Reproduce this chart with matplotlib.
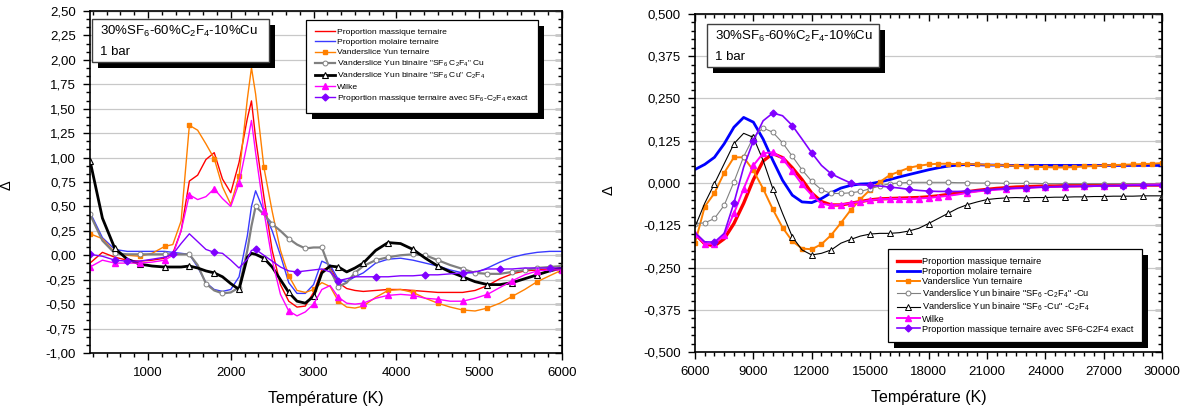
import numpy as np
import matplotlib
matplotlib.use("Agg")
import matplotlib.pyplot as plt
import matplotlib.patheffects as pe
from matplotlib.patches import Rectangle
from matplotlib.ticker import MultipleLocator, AutoMinorLocator, FuncFormatter

plt.rcParams['font.family'] = ['Liberation Sans', 'DejaVu Sans']
plt.rcParams['mathtext.default'] = 'regular'

# ---- left panel : 300 - 6000 K (finer sampling around the peaks) ----
T_lo = [300, 450, 600, 750, 900, 1050, 1200,
        1300, 1400, 1500, 1600, 1700, 1800, 1900, 2000, 2100, 2200,
        2250,
        2300, 2400, 2500, 2600, 2700, 2800, 2900, 3000, 3100, 3200, 3300, 3400, 3500, 3600,
        3750, 3900, 4050, 4200, 4350, 4500, 4650, 4800, 4950, 5100, 5250, 5400, 5550, 5700,
        5850, 6000]

red_lo = [-0.08, 0.03, -0.02, -0.05, -0.06, -0.05, -0.03,
          0.02, 0.25, 0.76, 0.82, 0.98, 1.05, 0.78, 0.64, 0.95, 1.40,
          1.58,
          1.20, 0.60, 0.05, -0.30, -0.47, -0.53, -0.52, -0.38, -0.15, -0.12, -0.28, -0.34,
          -0.36, -0.37,
          -0.36, -0.35, -0.35, -0.36, -0.37, -0.38, -0.38, -0.38, -0.36, -0.31, -0.24, -0.19,
          -0.16, -0.15, -0.14, -0.13]
blue_lo = [0.44, 0.18, 0.06, 0.04, 0.04, 0.04, 0.04,
           0.03, 0.02, 0.01, -0.12, -0.28, -0.35, -0.37, -0.35, -0.22, 0.20,
           0.50,
           0.66, 0.45, 0.25, 0.00, -0.28, -0.39, -0.39, -0.30, -0.06, -0.10, -0.25, -0.27,
           -0.22, -0.18,
           -0.08, -0.04, -0.03, -0.05, -0.08, -0.11, -0.15, -0.18, -0.18, -0.13, -0.07, -0.02,
           0.01, 0.03, 0.04, 0.04]
orange_lo = [0.22, 0.17, 0.03, 0.00, -0.01, 0.02, 0.09,
             0.11, 0.35, 1.33, 1.28, 1.14, 0.99, 0.70, 0.52, 0.81, 1.60,
             1.92,
             1.65, 0.90, 0.45, 0.05, -0.21, -0.36, -0.38, -0.35, -0.28, -0.32, -0.47, -0.53,
             -0.54, -0.52,
             -0.43, -0.36, -0.35, -0.38, -0.44, -0.49, -0.53, -0.56, -0.57, -0.54, -0.49, -0.42,
             -0.35, -0.27, -0.21, -0.15]
gray_lo = [0.42, 0.15, 0.02, 0.01, 0.01, 0.01, 0.01,
           0.01, 0.01, 0.01, -0.10, -0.29, -0.36, -0.39, -0.38, -0.33, 0.05,
           0.30,
           0.50, 0.42, 0.32, 0.25, 0.17, 0.11, 0.07, 0.08, 0.08, -0.15, -0.32, -0.28,
           -0.18, -0.11,
           -0.05, -0.02, 0.00, 0.01, 0.00, -0.05, -0.10, -0.14, -0.18, -0.19, -0.19, -0.17,
           -0.15, -0.13, -0.12, -0.11]
black_lo = [0.97, 0.38, 0.07, -0.04, -0.09, -0.11, -0.12,
            -0.12, -0.12, -0.11, -0.13, -0.16, -0.18, -0.22, -0.29, -0.35, -0.02,
            0.02,
            0.01, -0.03, -0.12, -0.25, -0.38, -0.47, -0.49, -0.42, -0.18, -0.11, -0.12, -0.17,
            -0.13, -0.08,
            0.05, 0.13, 0.12, 0.06, -0.03, -0.11, -0.17, -0.22, -0.27, -0.30, -0.30, -0.28,
            -0.24, -0.20, -0.16, -0.13]
magenta_lo = [-0.12, -0.05, -0.08, -0.08, -0.08, -0.07, -0.05,
              0.00, 0.25, 0.62, 0.57, 0.60, 0.68, 0.58, 0.50, 0.74, 1.15,
              1.38,
              1.05, 0.45, -0.05, -0.40, -0.57, -0.62, -0.58, -0.50, -0.35, -0.31, -0.43, -0.49,
              -0.50, -0.49,
              -0.44, -0.41, -0.40, -0.41, -0.44, -0.45, -0.47, -0.47, -0.44, -0.40, -0.33,
              -0.26, -0.20, -0.16, -0.15, -0.15]
purple_lo = [0.01, -0.01, -0.05, -0.06, -0.06, -0.04, -0.02,
             0.01, 0.12, 0.22, 0.14, 0.06, 0.03, 0.02, -0.05, -0.13, -0.04,
             0.05,
             0.06, 0.00, -0.06, -0.12, -0.16, -0.17, -0.16, -0.15, -0.14, -0.17, -0.26, -0.24,
             -0.22, -0.22,
             -0.22, -0.22, -0.21, -0.21, -0.20, -0.20, -0.19, -0.18, -0.17, -0.14, -0.14, -0.14,
             -0.13, -0.13, -0.13, -0.13]

# temperatures carrying a symbol
marks_300 = list(range(300, 6001, 300))
gray_lo_marks = [300, 600, 900, 1200, 1500, 1700, 1900, 2100, 2300, 2500, 2700, 2900, 3100,
                 3300, 3500, 3750, 3900, 4200, 4350, 4500, 4800, 4950, 5100, 5400, 5550, 5700,
                 5850, 6000]
purple_lo_marks = [300, 600, 750, 1300, 1800, 2300, 2800, 3300, 3750, 4350, 4800, 5250, 5850]

# ---- right panel : 6000 - 30000 K, one value every 500 K ----
T_hi = np.arange(6000, 30001, 500)

red_hi = [-0.150, -0.180, -0.186, -0.165, -0.120, -0.060, 0.010, 0.065, 0.087, 0.075,
          0.045, 0.010, -0.030, -0.055, -0.065, -0.065, -0.060, -0.055, -0.050, -0.047,
          -0.046, -0.045, -0.044, -0.043, -0.041, -0.038, -0.034, -0.030, -0.026, -0.022,
          -0.019, -0.016, -0.014, -0.012, -0.011, -0.010, -0.009, -0.009, -0.008, -0.008,
          -0.008, -0.007, -0.007, -0.007, -0.006, -0.006, -0.006, -0.006, -0.006]
blue_hi = [0.040, 0.055, 0.076, 0.116, 0.165, 0.194, 0.180, 0.130, 0.067, 0.008,
           -0.036, -0.056, -0.058, -0.046, -0.029, -0.015, -0.007, -0.003, -0.002, 0.003,
           0.010, 0.018, 0.025, 0.032, 0.039, 0.045, 0.050, 0.053, 0.055, 0.054,
           0.053, 0.053, 0.052, 0.052, 0.052, 0.052, 0.052, 0.052, 0.052, 0.052,
           0.052, 0.052, 0.052, 0.052, 0.052, 0.052, 0.052, 0.052, 0.052]
orange_hi = [-0.178, -0.070, -0.030, 0.030, 0.076, 0.076, 0.037, -0.017, -0.078, -0.132,
             -0.172, -0.194, -0.196, -0.181, -0.154, -0.118, -0.080, -0.048, -0.020, 0.003,
             0.023, 0.034, 0.045, 0.051, 0.055, 0.057, 0.057, 0.056, 0.056, 0.055,
             0.054, 0.053, 0.052, 0.051, 0.049, 0.048, 0.047, 0.046, 0.046, 0.047,
             0.049, 0.050, 0.052, 0.053, 0.054, 0.055, 0.056, 0.057, 0.059]
gray_hi = [-0.120, -0.118, -0.105, -0.066, 0.003, 0.078, 0.135, 0.163, 0.150, 0.119,
           0.079, 0.039, 0.005, -0.020, -0.031, -0.031, -0.029, -0.025, -0.017, -0.009,
           -0.002, 0.000, 0.002, 0.002, 0.002, 0.002, 0.002, 0.001, 0.001, 0.000,
           0.000, 0.000, -0.001, -0.001, -0.001, -0.001, -0.002, -0.002, -0.002, -0.002,
           -0.002, -0.002, -0.002, -0.002, -0.002, -0.002, -0.002, -0.002, -0.002]
black_hi = [-0.130, -0.060, -0.002, 0.057, 0.116, 0.147, 0.135, 0.067, -0.017, -0.090,
            -0.159, -0.198, -0.213, -0.208, -0.198, -0.178, -0.167, -0.157, -0.151, -0.149,
            -0.149, -0.147, -0.142, -0.134, -0.120, -0.105, -0.090, -0.075, -0.064, -0.056,
            -0.049, -0.046, -0.044, -0.043, -0.044, -0.043, -0.043, -0.042, -0.042, -0.041,
            -0.041, -0.040, -0.040, -0.039, -0.039, -0.039, -0.038, -0.038, -0.038]
magenta_hi = [-0.150, -0.180, -0.180, -0.155, -0.090, -0.017, 0.052, 0.088, 0.091, 0.072,
              0.035, -0.004, -0.036, -0.061, -0.066, -0.064, -0.059, -0.056, -0.051, -0.048,
              -0.047, -0.047, -0.047, -0.046, -0.044, -0.041, -0.038, -0.034, -0.029, -0.025,
              -0.022, -0.020, -0.018, -0.016, -0.015, -0.013, -0.012, -0.011, -0.011, -0.010,
              -0.010, -0.009, -0.008, -0.008, -0.007, -0.006, -0.005, -0.005, -0.004]
purple_hi = [-0.147, -0.174, -0.175, -0.149, -0.059, 0.047, 0.125, 0.184, 0.207, 0.199,
             0.170, 0.130, 0.089, 0.052, 0.027, 0.013, 0.000, -0.005, -0.007, -0.009,
             -0.012, -0.015, -0.019, -0.022, -0.024, -0.025, -0.025, -0.025, -0.024, -0.022,
             -0.020, -0.018, -0.016, -0.015, -0.014, -0.013, -0.012, -0.011, -0.010, -0.010,
             -0.009, -0.009, -0.008, -0.008, -0.008, -0.007, -0.007, -0.007, -0.007]

labels_lo = ["Proportion massique ternaire",
             "Proportion molaire ternaire",
             "Vanderslice Yun ternaire",
             'Vanderslice Yun binaire "SF$_6$ C$_2$F$_4$" Cu',
             'Vanderslice Yun binaire "SF$_6$ Cu" C$_2$F$_4$',
             "Wilke",
             "Proportion massique ternaire avec SF$_6$-C$_2$F$_4$ exact"]
labels_hi = ["Proportion massique ternaire",
             "Proportion molaire ternaire",
             "Vanderslice Yun ternaire",
             'Vanderslice Yun binaire "SF$_6$ -C$_2$F$_4$" -Cu',
             'Vanderslice Yun binaire "SF$_6$ -Cu" -C$_2$F$_4$',
             "Wilke",
             "Proportion massique ternaire avec SF6-C2F4 exact"]

W, H = 1190, 412
fig = plt.figure(figsize=(W / 100, H / 100), dpi=100)


def px_axes(x0, y0, x1, y1):
    return fig.add_axes([x0 / W, 1 - y1 / H, (x1 - x0) / W, (y1 - y0) / H])


def idx(T, temps):
    return [int(i) for i in np.searchsorted(T, temps)]


ax1 = px_axes(90, 11, 562, 353)
ax2 = px_axes(695, 14, 1162, 352)

shadow = [pe.SimplePatchShadow(offset=(4.3, -4.3), shadow_rgbFace='black', alpha=1.0), pe.Normal()]

# left panel curves
m300 = idx(T_lo, marks_300)
ax1.plot(T_lo, red_lo, color='#ff0000', lw=1.0, label=labels_lo[0])
ax1.plot(T_lo, blue_lo, color='#3a3aff', lw=1.0, label=labels_lo[1])
ax1.plot(T_lo, orange_lo, color='#ff8000', lw=1.0, marker='s', ms=3.3, markevery=m300,
         label=labels_lo[2])
ax1.plot(T_lo, gray_lo, color='#808080', lw=1.6, marker='o', ms=3.5, mfc='white', mew=0.7,
         markevery=idx(T_lo, gray_lo_marks), label=labels_lo[3])
ax1.plot(T_lo, black_lo, color='black', lw=2.0, marker='^', ms=4, mfc='white', mew=0.8,
         markevery=m300, label=labels_lo[4])
ax1.plot(T_lo, magenta_lo, color='#ff00ff', lw=1.0, marker='^', ms=4, markevery=m300,
         label=labels_lo[5])
ax1.plot(T_lo, purple_lo, color='#8000ff', lw=1.0, marker='D', ms=3.5,
         markevery=idx(T_lo, purple_lo_marks), label=labels_lo[6])

# right panel curves
gray_marks = list(range(0, 23)) + list(range(24, 49, 2))
magenta_marks = list(range(0, 27)) + list(range(28, 49, 2))
ax2.plot(T_hi, red_hi, color='#ff0000', lw=2.4, label=labels_hi[0])
ax2.plot(T_hi, blue_hi, color='#0000ff', lw=2.0, label=labels_hi[1])
ax2.plot(T_hi, orange_hi, color='#ff8000', lw=1.4, marker='s', ms=3.3, label=labels_hi[2])
ax2.plot(T_hi, gray_hi, color='#808080', lw=0.8, marker='o', ms=3.5, mfc='white', mew=0.7,
         markevery=gray_marks, label=labels_hi[3])
ax2.plot(T_hi, black_hi, color='black', lw=0.8, marker='^', ms=4, mfc='white', mew=0.7,
         markevery=slice(2, None, 2), label=labels_hi[4])
ax2.plot(T_hi, magenta_hi, color='#ff00ff', lw=1.4, marker='^', ms=4,
         markevery=magenta_marks, label=labels_hi[5])
ax2.plot(T_hi, purple_hi, color='#8000ff', lw=1.2, marker='D', ms=3.5,
         markevery=slice(2, None, 2), label=labels_hi[6])


def style(ax, xlim, ylim, xmaj, xn, ymaj, yn, ndec):
    ax.set_xlim(*xlim)
    ax.set_ylim(*ylim)
    ax.xaxis.set_major_locator(MultipleLocator(xmaj))
    ax.xaxis.set_minor_locator(AutoMinorLocator(xn))
    ax.yaxis.set_major_locator(MultipleLocator(ymaj))
    ax.yaxis.set_minor_locator(AutoMinorLocator(yn))
    ax.yaxis.set_major_formatter(FuncFormatter(lambda v, p: f"{v:.{ndec}f}".replace('.', ',')))
    ax.tick_params(which='both', direction='out', width=1.0, labelsize=9.5, pad=5)
    ax.tick_params(which='major', length=5)
    ax.tick_params(which='minor', length=3)
    for s in ax.spines.values():
        s.set_linewidth(1.2)
    ax.yaxis.grid(True, color='#c8c8c8', lw=0.9)
    ax.set_axisbelow(True)
    top = ax.secondary_xaxis('top')
    top.xaxis.set_major_locator(MultipleLocator(xmaj))
    top.xaxis.set_minor_locator(AutoMinorLocator(xn))
    top.tick_params(which='both', direction='in', width=1.0, labeltop=False)
    top.tick_params(which='major', length=5)
    top.tick_params(which='minor', length=3)
    right = ax.secondary_yaxis('right')
    right.yaxis.set_major_locator(MultipleLocator(ymaj))
    right.yaxis.set_minor_locator(AutoMinorLocator(yn))
    right.tick_params(which='both', direction='in', width=1.0, labelright=False)
    right.tick_params(which='major', length=5)
    right.tick_params(which='minor', length=3)
    ax.set_xlabel("Température (K)", fontsize=11.5, labelpad=9)
    ax.set_ylabel("Δ", fontsize=10.5)


style(ax1, (300, 6000), (-1.0, 2.5), 1000, 6, 0.25, 3, 2)
style(ax2, (6000, 30000), (-0.5, 0.5), 3000, 6, 0.125, 5, 3)
ax1.yaxis.set_label_coords(-0.161, 0.49)
ax2.yaxis.set_label_coords(-0.169, 0.48)

leg1 = ax1.legend(loc='upper right', bbox_to_anchor=(538 / W, 1 - 20 / H),
                  bbox_transform=fig.transFigure, borderaxespad=0, fontsize=6.1,
                  fancybox=False, framealpha=1, edgecolor='black', handlelength=2.4,
                  handletextpad=0.25, labelspacing=0.25, borderpad=1.0)
leg1.get_frame().set_linewidth(0.9)
leg1.get_frame().set_path_effects(shadow)

leg2 = ax2.legend(loc='lower right', bbox_to_anchor=(1142 / W, 1 - 342 / H),
                  bbox_transform=fig.transFigure, borderaxespad=0, fontsize=6.7,
                  fancybox=False, framealpha=1, edgecolor='black', handlelength=2.5,
                  handletextpad=0.25, labelspacing=0.12, borderpad=0.9)
leg2.get_frame().set_linewidth(0.9)
leg2.get_frame().set_path_effects(shadow)


def note(x0, y0, x1, y1):
    r = Rectangle((x0 / W, 1 - y1 / H), (x1 - x0) / W, (y1 - y0) / H,
                  transform=fig.transFigure, fc='white', ec='#404040', lw=1.0, zorder=10)
    r.set_path_effects(shadow)
    fig.add_artist(r)
    fig.text((x0 + 8) / W, 1 - (y0 + 12) / H, "30%SF$_6$-60%C$_2$F$_4$-10%Cu",
             fontsize=9.5, va='center', ha='left', zorder=11)
    fig.text((x0 + 8) / W, 1 - (y0 + 33) / H, "1 bar",
             fontsize=9.5, va='center', ha='left', zorder=11)


note(92, 19, 269, 62)
note(707, 24, 879, 67)

fig.savefig("out.png", dpi=100)
